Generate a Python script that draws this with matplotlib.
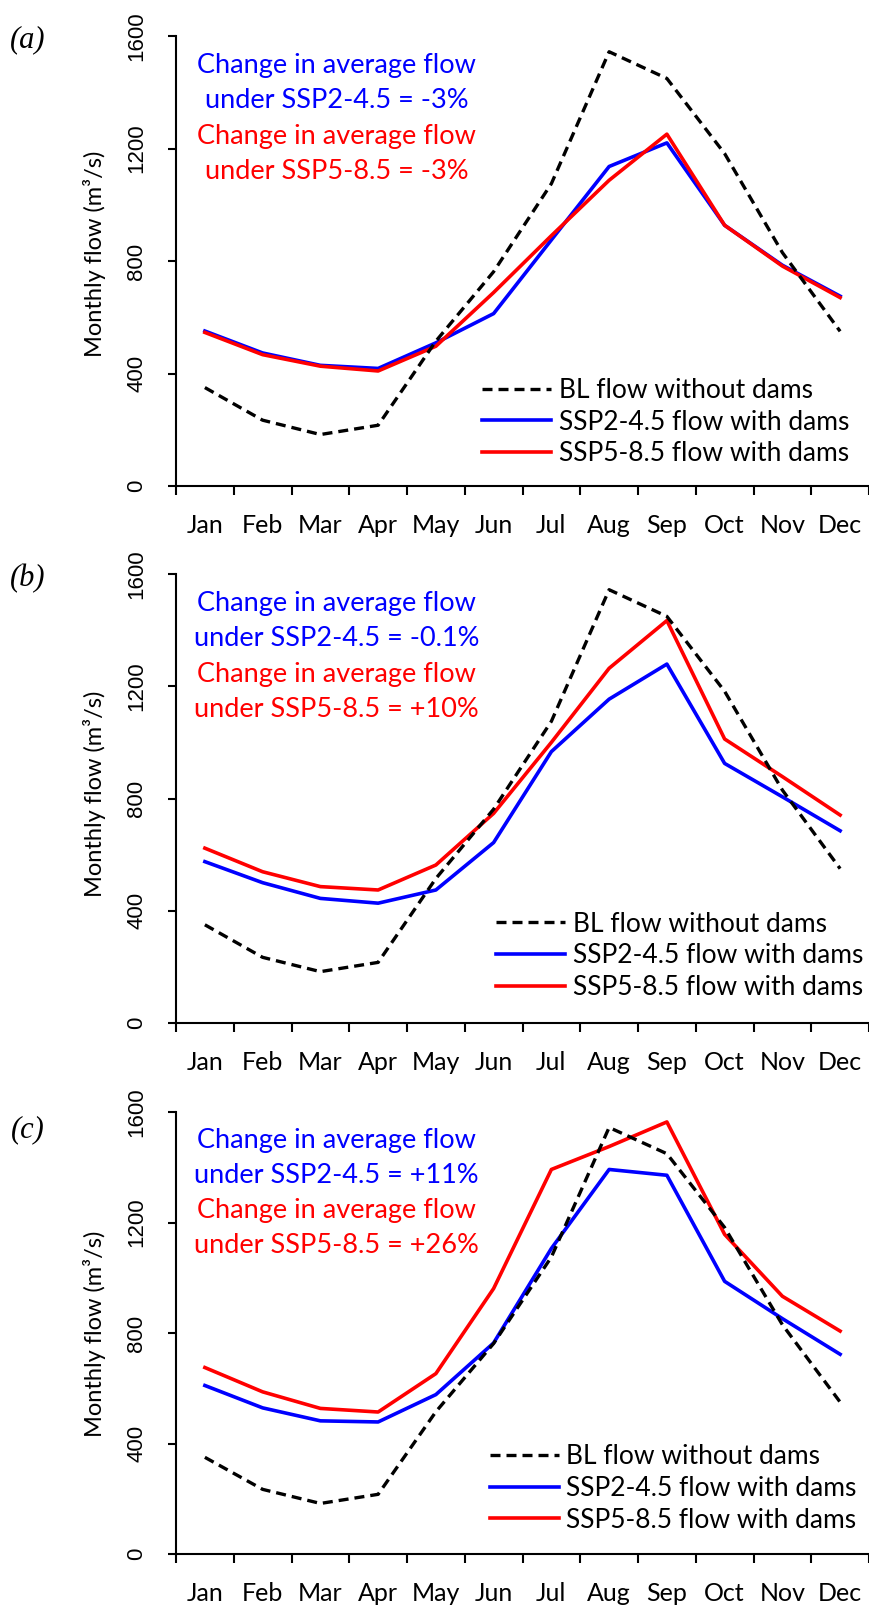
import matplotlib
matplotlib.use("Agg")
import matplotlib.pyplot as plt
from matplotlib.ticker import FixedLocator

W, H = 869, 1611

MONTHS = ["Jan", "Feb", "Mar", "Apr", "May", "Jun",
          "Jul", "Aug", "Sep", "Oct", "Nov", "Dec"]
Y_TICKS = [0, 400, 800, 1200, 1600]

# baseline (no dams) monthly flow, m3/s - same in all three panels
BL_FLOW = [350, 234, 183, 216, 515, 762, 1075, 1544, 1449, 1182, 830, 550]

# (a)
SSP245_A = [551, 473, 429, 418, 509, 613, 875, 1136, 1220, 927, 785, 675]
SSP585_A = [546, 467, 426, 409, 497, 688, 890, 1087, 1251, 927, 782, 670]
# (b)
SSP245_B = [575, 500, 444, 427, 474, 643, 967, 1154, 1279, 925, 806, 685]
SSP585_B = [623, 539, 486, 474, 563, 747, 1000, 1264, 1434, 1012, 878, 741]
# (c)
SSP245_C = [610, 529, 482, 478, 577, 764, 1106, 1392, 1371, 987, 852, 723]
SSP585_C = [675, 587, 527, 514, 653, 961, 1392, 1475, 1564, 1157, 933, 807]

CHANGE_245 = ["-3%", "-0.1%", "+11%"]
CHANGE_585 = ["-3%", "+10%", "+26%"]
PANEL_TAGS = ["(a)", "(b)", "(c)"]

BLUE, RED = "#0000ff", "#ff0000"
SANS = ["Lato", "DejaVu Sans"]

# panel boxes in pixels: (top, bottom), plus per-panel placement bits
PANELS = [
    dict(top=36, bot=486, ssp245=SSP245_A, ssp585=SSP585_A, leg=(0.442, 0.142),
         ylab=254, tag=40),
    dict(top=574, bot=1023, ssp245=SSP245_B, ssp585=SSP585_B, leg=(0.462, 0.150),
         ylab=794, tag=579),
    dict(top=1112, bot=1554, ssp245=SSP245_C, ssp585=SSP585_C, leg=(0.453, 0.148),
         ylab=1334, tag=1130),
]
LEFT, RIGHT = 176, 869

fig = plt.figure(figsize=(W / 100, H / 100), dpi=100)

for i, p in enumerate(PANELS):
    ax = fig.add_axes([LEFT / W, 1 - p["bot"] / H, (RIGHT - LEFT) / W,
                       (p["bot"] - p["top"]) / H])
    x = list(range(len(MONTHS)))
    ax.plot(x, p["ssp245"], color=BLUE, lw=2.6, label="SSP2-4.5 flow with dams", zorder=3)
    ax.plot(x, p["ssp585"], color=RED, lw=2.6, label="SSP5-8.5 flow with dams", zorder=4)
    bl, = ax.plot(x, BL_FLOW, color="black", lw=2.4, dashes=(3, 1.8),
                  label="BL flow without dams", zorder=5)

    ax.set_xlim(-0.5, 11.5)
    ax.set_ylim(0, 1600)
    for s in ("top", "right"):
        ax.spines[s].set_visible(False)
    for s in ("left", "bottom"):
        ax.spines[s].set_linewidth(1.5)

    ax.set_xticks(x)
    ax.set_xticklabels(MONTHS, fontsize=18, family=SANS)
    ax.xaxis.set_minor_locator(FixedLocator([k - 0.5 for k in range(13)]))
    ax.tick_params(axis="x", which="major", length=0, pad=20)
    ax.tick_params(axis="x", which="minor", direction="out", length=6.5, width=1.5)

    ax.set_yticks(Y_TICKS)
    ax.set_yticklabels([str(v) for v in Y_TICKS], fontsize=16,
                       family=["Liberation Sans", "DejaVu Sans"],
                       rotation=90, va="center")
    ax.tick_params(axis="y", direction="out", length=5.8, width=1.5, pad=15)

    fig.text(95 / W, 1 - p["ylab"] / H, "Monthly flow (m³/s)", rotation=90,
             ha="center", va="center", fontsize=17, family=SANS)
    fig.text(28 / W, 1 - p["tag"] / H, PANEL_TAGS[i], ha="center", va="center",
             fontsize=22, style="italic", family=["Liberation Serif", "DejaVu Serif"])

    # change-in-flow notes
    notes = [("Change in average flow", BLUE),
             (f"under SSP2-4.5 = {CHANGE_245[i]}", BLUE),
             ("Change in average flow", RED),
             (f"under SSP5-8.5 = {CHANGE_585[i]}", RED)]
    for (txt, col), yy in zip(notes, (0.935, 0.857, 0.777, 0.698)):
        ax.text(0.232, yy, txt, color=col, transform=ax.transAxes, ha="center",
                va="center", fontsize=19.5, family=SANS)

    handles = [bl] + ax.lines[:2]
    ax.legend(handles=handles, loc="center left", bbox_to_anchor=p["leg"],
              frameon=False, borderpad=0, borderaxespad=0, handlelength=2.6,
              handletextpad=0.3, labelspacing=0.25,
              prop={"family": SANS, "size": 19})

fig.savefig("out.png", dpi=100)
